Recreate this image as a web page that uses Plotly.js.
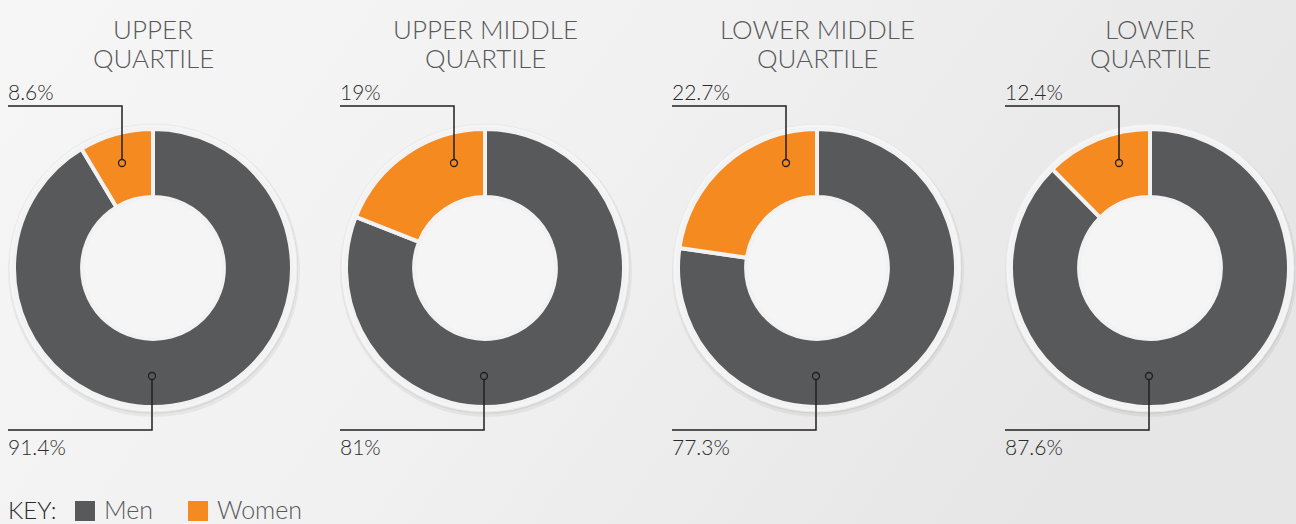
<!DOCTYPE html>
<html>
<head>
<meta charset="utf-8">
<script src="https://cdn.plot.ly/plotly-3.0.1.min.js"></script>
<style>
  html, body { margin: 0; padding: 0; background: #efefef; }
  #chart { width: 1296px; height: 524px; }
</style>
</head>
<body>
<div id="chart"></div>
<script>
// ---- data ----
const titleLine1 = ['UPPER', 'UPPER MIDDLE', 'LOWER MIDDLE', 'LOWER'];
const titleLine2 = ['QUARTILE', 'QUARTILE', 'QUARTILE', 'QUARTILE'];
const men = [91.4, 81, 77.3, 87.6];
const women = [8.6, 19, 22.7, 12.4];
const seriesNames = ['Men', 'Women'];
const seriesColors = ['#58595b', '#f58a20'];
const keyLabel = 'KEY:';

// ---- layout geometry (pixels) ----
const W = 1296, H = 524;
const centersX = [153, 485, 817, 1150];
const centerY = 268;
const R = 139;          // pie outer radius (incl. half of separator line)
const RING = 144;       // light ring radius
const HOLE = 0.51;
const FONT = 'Lato, "Open Sans", sans-serif';

const px = x => x / W;
const py = y => 1 - y / H;

const traces = [];
const shapes = [];
const annotations = [];

centersX.forEach((cx, i) => {
  // shadow + light ring behind the donut
  shapes.push({type: 'circle', xref: 'paper', yref: 'paper', layer: 'below',
    x0: px(cx - RING - 1), x1: px(cx + RING + 3), y0: py(centerY + RING + 5), y1: py(centerY - RING + 1),
    fillcolor: 'rgba(0,0,0,0.05)', line: {width: 0}});
  shapes.push({type: 'circle', xref: 'paper', yref: 'paper', layer: 'below',
    x0: px(cx - RING), x1: px(cx + RING + 1), y0: py(centerY + RING + 2), y1: py(centerY - RING),
    fillcolor: 'rgba(0,0,0,0.06)', line: {width: 0}});
  shapes.push({type: 'circle', xref: 'paper', yref: 'paper', layer: 'below',
    x0: px(cx - RING), x1: px(cx + RING), y0: py(centerY + RING), y1: py(centerY - RING),
    fillcolor: '#f5f5f5', line: {color: '#eaeaea', width: 1}});

  traces.push({
    type: 'pie',
    values: [men[i], women[i]],
    labels: seriesNames,
    marker: {colors: seriesColors, line: {color: '#f2f2f2', width: 4}},
    hole: HOLE,
    sort: false,
    direction: 'clockwise',
    rotation: 0,
    textinfo: 'none',
    hoverinfo: 'label+percent',
    showlegend: false,
    domain: {x: [px(cx - R), px(cx + R)], y: [py(centerY + R), py(centerY - R)]}
  });

  // titles
  annotations.push({xref: 'paper', yref: 'paper', x: px(cx), y: py(29), xanchor: 'center', yanchor: 'middle',
    text: titleLine1[i], showarrow: false, font: {family: FONT, size: 26, weight: 300, color: '#58595b'}});
  annotations.push({xref: 'paper', yref: 'paper', x: px(cx), y: py(58), xanchor: 'center', yanchor: 'middle',
    text: titleLine2[i], showarrow: false, font: {family: FONT, size: 26, weight: 300, color: '#58595b'}});

  // leader: women (top)
  const lx = cx - 145;
  const wdx = cx - 31, wdy = 163;
  shapes.push({type: 'path', xref: 'paper', yref: 'paper', layer: 'above',
    path: `M${px(lx)},${py(106)} L${px(wdx)},${py(106)} L${px(wdx)},${py(wdy - 3.5)}`,
    line: {color: '#231f20', width: 1.5}});
  shapes.push({type: 'circle', xref: 'paper', yref: 'paper', layer: 'above',
    x0: px(wdx - 3.5), x1: px(wdx + 3.5), y0: py(wdy + 3.5), y1: py(wdy - 3.5),
    line: {color: '#231f20', width: 1.3}, fillcolor: 'rgba(0,0,0,0)'});
  annotations.push({xref: 'paper', yref: 'paper', x: px(lx - 2), y: py(92), xanchor: 'left', yanchor: 'middle',
    text: women[i] + '%', showarrow: false, font: {family: FONT, size: 21, weight: 300, color: '#2b2b2b'}});

  // leader: men (bottom)
  const mdx = cx - 1, mdy = 376;
  shapes.push({type: 'path', xref: 'paper', yref: 'paper', layer: 'above',
    path: `M${px(mdx)},${py(mdy + 3.5)} L${px(mdx)},${py(430)} L${px(lx)},${py(430)}`,
    line: {color: '#231f20', width: 1.5}});
  shapes.push({type: 'circle', xref: 'paper', yref: 'paper', layer: 'above',
    x0: px(mdx - 3.5), x1: px(mdx + 3.5), y0: py(mdy + 3.5), y1: py(mdy - 3.5),
    line: {color: '#231f20', width: 1.3}, fillcolor: 'rgba(0,0,0,0)'});
  annotations.push({xref: 'paper', yref: 'paper', x: px(lx - 2), y: py(446), xanchor: 'left', yanchor: 'middle',
    text: men[i] + '%', showarrow: false, font: {family: FONT, size: 21, weight: 300, color: '#2b2b2b'}});
});

// key
const keyY = 509;
annotations.push({xref: 'paper', yref: 'paper', x: px(6), y: py(keyY), xanchor: 'left', yanchor: 'middle',
  text: keyLabel, showarrow: false, font: {family: FONT, size: 24, weight: 300, color: '#2b2b2b'}});
const keySq = [75, 188];
const keyTx = [102, 215];
seriesNames.forEach((name, k) => {
  shapes.push({type: 'rect', xref: 'paper', yref: 'paper', layer: 'above',
    x0: px(keySq[k]), x1: px(keySq[k] + 20), y0: py(521), y1: py(501),
    fillcolor: seriesColors[k], line: {width: 0}});
  annotations.push({xref: 'paper', yref: 'paper', x: px(keyTx[k]), y: py(keyY), xanchor: 'left', yanchor: 'middle',
    text: name, showarrow: false, font: {family: FONT, size: 25, weight: 300, color: '#58595b'}});
});

const bgSvg = '<svg xmlns="http://www.w3.org/2000/svg" width="1296" height="524">' +
  '<defs><linearGradient id="g" x1="0" y1="0" x2="1" y2="0.3">' +
  '<stop offset="0" stop-color="#f6f6f6"/><stop offset="0.5" stop-color="#f1f1f1"/><stop offset="1" stop-color="#e6e6e6"/>' +
  '</linearGradient></defs><rect width="1296" height="524" fill="url(#g)"/></svg>';

const layout = {
  width: W, height: H,
  margin: {l: 0, r: 0, t: 0, b: 0},
  paper_bgcolor: '#efefef',
  plot_bgcolor: 'rgba(0,0,0,0)',
  showlegend: false,
  shapes: shapes,
  annotations: annotations,
  images: [{source: 'data:image/svg+xml;charset=utf-8,' + encodeURIComponent(bgSvg),
    xref: 'paper', yref: 'paper', x: 0, y: 1, sizex: 1, sizey: 1, sizing: 'stretch',
    xanchor: 'left', yanchor: 'top', layer: 'below'}]
};

Plotly.newPlot('chart', traces, layout, {displayModeBar: false});
</script>
</body>
</html>
